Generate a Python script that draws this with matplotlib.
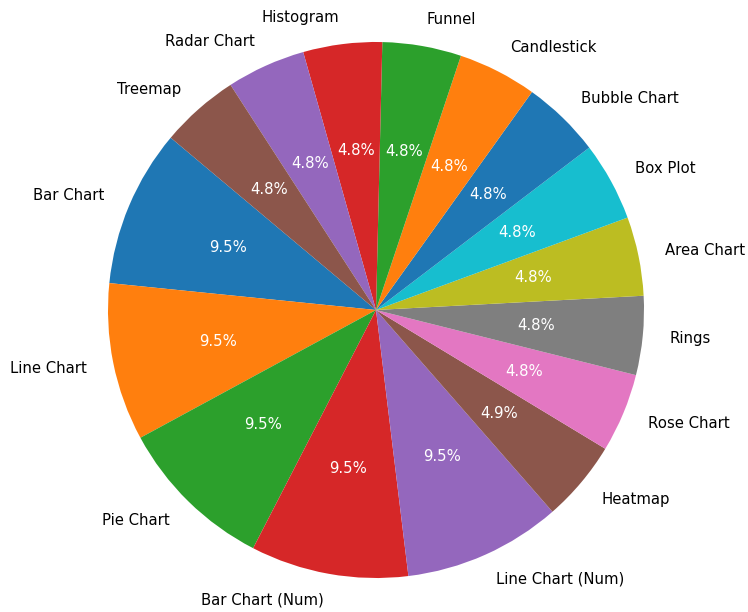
import matplotlib
matplotlib.use("Agg")
import matplotlib.pyplot as plt

labels = ["Bar Chart", "Line Chart", "Pie Chart", "Bar Chart (Num)", "Line Chart (Num)",
          "Heatmap", "Rose Chart", "Rings", "Area Chart", "Box Plot", "Bubble Chart",
          "Candlestick", "Funnel", "Histogram", "Radar Chart", "Treemap"]
sizes = [2, 2, 2, 2, 2, 1.03, 1, 1, 1, 1, 1, 1, 1, 1, 1, 1]

fig = plt.figure(figsize=(7.48, 6.12), dpi=100)
ax = fig.add_axes([41 / 748, -33 / 612, 670 / 748, 670 / 612])

wedges, texts, autotexts = ax.pie(sizes, labels=labels, autopct="%1.1f%%", startangle=140,
                                  textprops={"fontsize": 10.7})
for t in autotexts:
    t.set_color("white")
ax.set_xlim(-1.25, 1.25)
ax.set_ylim(-1.25, 1.25)

fig.savefig("out.png", dpi=100)
